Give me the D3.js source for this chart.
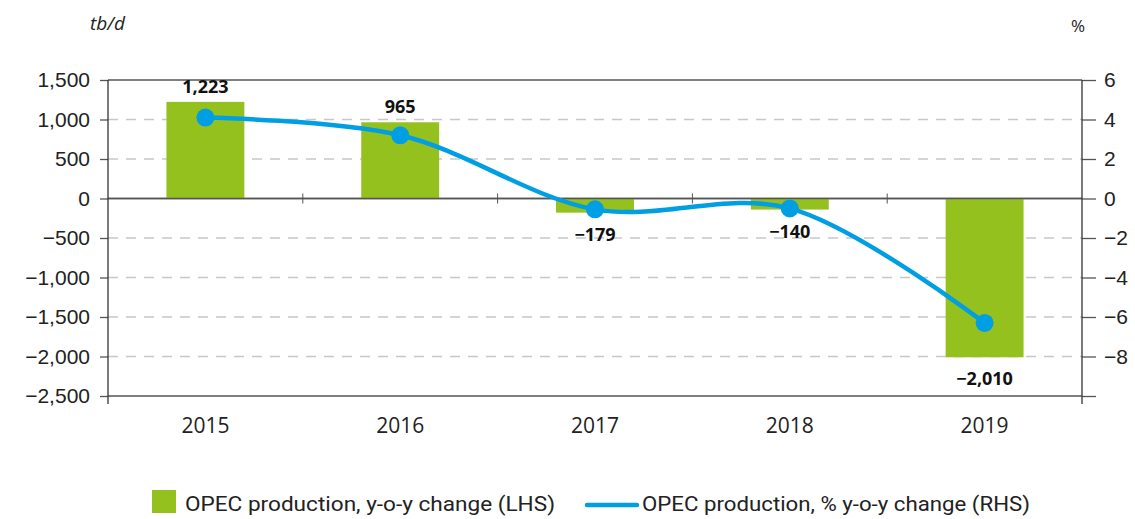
<!DOCTYPE html>
<html>
<head>
<meta charset="utf-8">
<script src="https://cdn.jsdelivr.net/npm/d3@7"></script>
<style>
  body { margin: 0; background: #fff; }
  svg { font-family: "Open Sans", "DejaVu Sans", sans-serif; }
</style>
</head>
<body>
<div id="chart"></div>
<script>
// data
var years = ["2015", "2016", "2017", "2018", "2019"];
var prodChange = [1223, 965, -179, -140, -2010];
var pctChange = [4.1, 3.2, -0.55, -0.5, -6.3];
var leftTicks = [1500, 1000, 500, 0, -500, -1000, -1500, -2000, -2500];
var rightTicks = [6, 4, 2, 0, -2, -4, -6, -8, -10];

var width = 1135, height = 519;
var margin = {left: 108, right: 1082, top: 80, bottom: 396};

var svg = d3.select("#chart")
  .append("svg")
    .attr("width", width)
    .attr("height", height);

// bar band and category band
var x = d3.scaleBand()
  .domain(years)
  .range([margin.left, margin.right])
  .paddingInner(0.6)
  .paddingOuter(0.3);

var xb = d3.scaleBand().domain(years).range([margin.left, margin.right]);

var y = d3.scaleLinear().domain([-2500, 1500]).range([margin.bottom, margin.top]);
var y2 = d3.scaleLinear().domain([-10, 6]).range([margin.bottom, margin.top]);

var fmt = function(v) { return d3.format(",")(v).replace("-", "\u2212"); };

var isSolid = function(d) { return d == 1500 || d == 0 || d == -2500; };

// grid lines
svg.append("g")
  .selectAll("line")
  .data(leftTicks)
  .enter()
  .append("line")
    .attr("x1", margin.left).attr("x2", margin.right)
    .attr("y1", function(d) { return y(d); })
    .attr("y2", function(d) { return y(d); })
    .attr("stroke", function(d) { return isSolid(d) ? "#555" : "#c8c8c8"; })
    .attr("stroke-width", 1.3)
    .attr("stroke-dasharray", function(d) { return isSolid(d) ? null : "10,8"; });

// bars
svg.selectAll("rect.bar")
  .data(prodChange)
  .enter()
  .append("rect")
    .attr("class", "bar")
    .attr("x", function(d, i) { return x(years[i]); })
    .attr("width", x.bandwidth())
    .attr("y", function(d) { return y(Math.max(0, d)); })
    .attr("height", function(d) { return Math.abs(y(d) - y(0)); })
    .attr("fill", "#95c11f");

// zero line on top of bars
svg.append("line")
  .attr("x1", margin.left).attr("x2", margin.right)
  .attr("y1", y(0)).attr("y2", y(0))
  .attr("stroke", "#555").attr("stroke-width", 1.3);

// category boundary ticks on zero line
svg.append("g")
  .selectAll("line")
  .data(years.slice(1))
  .enter()
  .append("line")
    .attr("x1", function(d) { return xb(d); })
    .attr("x2", function(d) { return xb(d); })
    .attr("y1", y(0) - 5).attr("y2", y(0) + 5)
    .attr("stroke", "#555").attr("stroke-width", 1);

// left axis
var leftAxis = svg.append("g")
  .attr("transform", "translate(" + margin.left + ",0)")
  .call(d3.axisLeft(y).tickValues(leftTicks).tickFormat(fmt).tickSize(8).tickPadding(10));
leftAxis.select(".domain").remove();
leftAxis.append("line")
  .attr("x1", 0).attr("x2", 0).attr("y1", margin.top).attr("y2", margin.bottom + 8)
  .attr("stroke", "#333").attr("stroke-width", 1.3);

// right axis
var rightAxis = svg.append("g")
  .attr("transform", "translate(" + margin.right + ",0)")
  .call(d3.axisRight(y2).tickValues(rightTicks)
    .tickFormat(function(d) { return d == -10 ? "" : fmt(d); })
    .tickSize(14).tickPadding(8));
rightAxis.select(".domain").remove();
rightAxis.append("line")
  .attr("x1", 0).attr("x2", 0).attr("y1", margin.top).attr("y2", margin.bottom + 8)
  .attr("stroke", "#333").attr("stroke-width", 1.3);

svg.selectAll(".tick line").attr("stroke", "#555").attr("stroke-width", 1.3);
svg.selectAll(".tick text").attr("font-size", 21).attr("fill", "#222");

// x labels
svg.append("g")
  .selectAll("text")
  .data(years)
  .enter()
  .append("text")
    .attr("x", function(d) { return xb(d) + xb.bandwidth() / 2; })
    .attr("y", 433)
    .attr("text-anchor", "middle")
    .attr("font-size", 21)
    .attr("fill", "#222")
    .text(function(d) { return d; });

// line
var line = d3.line()
  .x(function(d, i) { return xb(years[i]) + xb.bandwidth() / 2; })
  .y(function(d) { return y2(d); })
  .curve(d3.curveCatmullRom.alpha(0.5));

svg.append("path")
  .datum(pctChange)
  .attr("fill", "none")
  .attr("stroke", "#009fe3")
  .attr("stroke-width", 4.5)
  .attr("d", line);

svg.selectAll("circle.pt")
  .data(pctChange)
  .enter()
  .append("circle")
    .attr("cx", function(d, i) { return xb(years[i]) + xb.bandwidth() / 2; })
    .attr("cy", function(d) { return y2(d); })
    .attr("r", 9)
    .attr("fill", "#009fe3");

// bar value labels
svg.selectAll("text.val")
  .data(prodChange)
  .enter()
  .append("text")
    .attr("class", "val")
    .attr("x", function(d, i) { return x(years[i]) + x.bandwidth() / 2; })
    .attr("y", function(d) { return d >= 0 ? y(d) - 9 : y(d) + 28; })
    .attr("text-anchor", "middle")
    .attr("font-size", 18)
    .attr("font-weight", "bold")
    .attr("fill", "#111")
    .text(function(d) { return fmt(d); });

// unit labels
svg.append("text")
  .attr("x", 90).attr("y", 30)
  .attr("font-size", 19).attr("font-style", "italic").attr("fill", "#222")
  .text("tb/d");
svg.append("text")
  .attr("x", 1085).attr("y", 32)
  .attr("text-anchor", "end")
  .attr("font-size", 17).attr("fill", "#222")
  .text("%");

// legend
var legend = svg.append("g").attr("font-family", "Roboto, 'Open Sans', sans-serif");
legend.append("rect")
  .attr("x", 152).attr("y", 490).attr("width", 24).attr("height", 23)
  .attr("fill", "#95c11f");
legend.append("text")
  .attr("x", 185).attr("y", 511)
  .attr("font-size", 21).attr("fill", "#222")
  .attr("textLength", 370).attr("lengthAdjust", "spacingAndGlyphs")
  .text("OPEC production, y-o-y change (LHS)");
legend.append("line")
  .attr("x1", 587).attr("x2", 637).attr("y1", 505).attr("y2", 505)
  .attr("stroke", "#009fe3").attr("stroke-width", 4.5).attr("stroke-linecap", "round");
legend.append("text")
  .attr("x", 642).attr("y", 511)
  .attr("font-size", 21).attr("fill", "#222")
  .attr("textLength", 388).attr("lengthAdjust", "spacingAndGlyphs")
  .text("OPEC production, % y-o-y change (RHS)");
</script>
</body>
</html>
